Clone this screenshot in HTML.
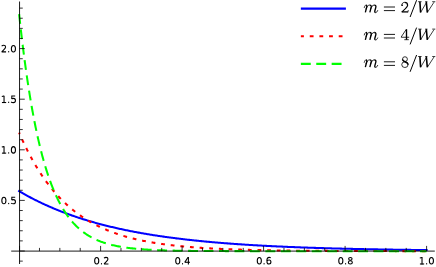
<!DOCTYPE html>
<html><head><meta charset="utf-8"><style>
html,body{margin:0;padding:0;background:#fff;}
svg{display:block;}
text{font-family:"Liberation Sans",sans-serif;}
</style></head><body>
<svg width="436" height="267" viewBox="0 0 436 267">
<rect width="436" height="267" fill="#fff"/>
<path d="M19.10,191.16 L19.96,191.67 L20.83,192.17 L21.70,192.67 L22.57,193.17 L23.44,193.66 L24.32,194.15 L25.19,194.64 L26.07,195.13 L26.95,195.61 L27.83,196.09 L28.71,196.56 L29.60,197.03 L30.48,197.50 L31.37,197.97 L32.26,198.43 L33.15,198.89 L34.04,199.35 L34.94,199.80 L35.83,200.25 L36.73,200.69 L37.63,201.14 L38.53,201.58 L39.43,202.02 L40.33,202.45 L41.24,202.88 L42.15,203.31 L43.05,203.73 L43.96,204.15 L44.87,204.57 L45.79,204.99 L46.70,205.40 L47.62,205.81 L48.53,206.22 L49.45,206.62 L50.37,207.02 L51.29,207.42 L52.21,207.81 L53.13,208.20 L54.06,208.59 L54.98,208.97 L55.91,209.36 L56.84,209.74 L57.77,210.11 L58.70,210.49 L59.63,210.86 L60.56,211.22 L61.50,211.59 L62.43,211.95 L63.37,212.31 L64.30,212.66 L65.24,213.02 L66.18,213.37 L67.12,213.71 L68.06,214.06 L69.00,214.40 L69.95,214.74 L70.89,215.08 L71.84,215.41 L72.78,215.74 L73.73,216.07 L74.68,216.39 L75.63,216.71 L76.58,217.03 L77.53,217.35 L78.48,217.67 L79.43,217.98 L80.39,218.29 L81.34,218.59 L82.30,218.90 L83.25,219.20 L84.21,219.50 L85.17,219.79 L86.13,220.09 L87.08,220.38 L88.04,220.67 L89.01,220.95 L89.97,221.24 L90.93,221.52 L91.89,221.80 L92.85,222.08 L93.82,222.35 L94.78,222.62 L95.75,222.89 L96.72,223.16 L97.68,223.42 L98.65,223.68 L99.62,223.94 L100.59,224.20 L101.56,224.46 L102.53,224.71 L103.50,224.96 L104.47,225.21 L105.44,225.46 L106.41,225.70 L107.38,225.94 L108.36,226.18 L109.33,226.42 L110.31,226.66 L111.28,226.89 L112.26,227.12 L113.23,227.35 L114.21,227.58 L115.18,227.80 L116.16,228.02 L117.14,228.25 L118.12,228.46 L119.10,228.68 L120.08,228.90 L121.05,229.11 L122.03,229.32 L123.01,229.53 L124.00,229.74 L124.98,229.94 L125.96,230.15 L126.94,230.35 L127.92,230.55 L128.90,230.75 L129.89,230.94 L130.87,231.14 L131.85,231.33 L132.84,231.52 L133.82,231.71 L134.81,231.90 L135.79,232.08 L136.78,232.27 L137.76,232.45 L138.75,232.63 L139.74,232.81 L140.72,232.98 L141.71,233.16 L142.70,233.33 L143.69,233.50 L144.67,233.67 L145.66,233.84 L146.65,234.01 L147.64,234.18 L148.63,234.34 L149.62,234.50 L150.61,234.66 L151.59,234.82 L152.58,234.98 L153.57,235.14 L154.57,235.29 L155.56,235.45 L156.55,235.60 L157.54,235.75 L158.53,235.90 L159.52,236.05 L160.51,236.19 L161.50,236.34 L162.50,236.48 L163.49,236.63 L164.48,236.77 L165.47,236.91 L166.47,237.04 L167.46,237.18 L168.45,237.32 L169.44,237.45 L170.44,237.58 L171.43,237.72 L172.43,237.85 L173.42,237.98 L174.41,238.10 L175.41,238.23 L176.40,238.36 L177.40,238.48 L178.39,238.60 L179.39,238.73 L180.38,238.85 L181.38,238.97 L182.37,239.09 L183.37,239.20 L184.36,239.32 L185.36,239.44 L186.36,239.55 L187.35,239.66 L188.35,239.77 L189.34,239.89 L190.34,240.00 L191.34,240.10 L192.33,240.21 L193.33,240.32 L194.33,240.42 L195.32,240.53 L196.32,240.63 L197.32,240.74 L198.31,240.84 L199.31,240.94 L200.31,241.04 L201.31,241.14 L202.30,241.23 L203.30,241.33 L204.30,241.43 L205.30,241.52 L206.30,241.62 L207.29,241.71 L208.29,241.80 L209.29,241.89 L210.29,241.98 L211.29,242.07 L212.29,242.16 L213.28,242.25 L214.28,242.34 L215.28,242.42 L216.28,242.51 L217.28,242.59 L218.28,242.68 L219.28,242.76 L220.28,242.84 L221.27,242.92 L222.27,243.00 L223.27,243.08 L224.27,243.16 L225.27,243.24 L226.27,243.32 L227.27,243.39 L228.27,243.47 L229.27,243.54 L230.27,243.62 L231.27,243.69 L232.27,243.77 L233.27,243.84 L234.27,243.91 L235.27,243.98 L236.27,244.05 L237.27,244.12 L238.27,244.19 L239.27,244.26 L240.27,244.32 L241.27,244.39 L242.27,244.46 L243.27,244.52 L244.27,244.59 L245.27,244.65 L246.27,244.72 L247.27,244.78 L248.27,244.84 L249.27,244.90 L250.27,244.96 L251.27,245.03 L252.27,245.09 L253.27,245.15 L254.27,245.20 L255.27,245.26 L256.28,245.32 L257.28,245.38 L258.28,245.43 L259.28,245.49 L260.28,245.55 L261.28,245.60 L262.28,245.65 L263.28,245.71 L264.28,245.76 L265.28,245.82 L266.28,245.87 L267.29,245.92 L268.29,245.97 L269.29,246.02 L270.29,246.07 L271.29,246.12 L272.29,246.17 L273.29,246.22 L274.29,246.27 L275.29,246.32 L276.30,246.36 L277.30,246.41 L278.30,246.46 L279.30,246.50 L280.30,246.55 L281.30,246.59 L282.30,246.64 L283.31,246.68 L284.31,246.73 L285.31,246.77 L286.31,246.81 L287.31,246.86 L288.31,246.90 L289.31,246.94 L290.32,246.98 L291.32,247.02 L292.32,247.06 L293.32,247.10 L294.32,247.14 L295.32,247.18 L296.33,247.22 L297.33,247.26 L298.33,247.30 L299.33,247.34 L300.33,247.37 L301.33,247.41 L302.34,247.45 L303.34,247.48 L304.34,247.52 L305.34,247.56 L306.34,247.59 L307.34,247.63 L308.35,247.66 L309.35,247.70 L310.35,247.73 L311.35,247.76 L312.35,247.80 L313.35,247.83 L314.36,247.86 L315.36,247.89 L316.36,247.93 L317.36,247.96 L318.36,247.99 L319.37,248.02 L320.37,248.05 L321.37,248.08 L322.37,248.11 L323.37,248.14 L324.38,248.17 L325.38,248.20 L326.38,248.23 L327.38,248.26 L328.38,248.29 L329.39,248.32 L330.39,248.34 L331.39,248.37 L332.39,248.40 L333.39,248.43 L334.40,248.45 L335.40,248.48 L336.40,248.51 L337.40,248.53 L338.40,248.56 L339.41,248.58 L340.41,248.61 L341.41,248.63 L342.41,248.66 L343.41,248.68 L344.42,248.71 L345.42,248.73 L346.42,248.76 L347.42,248.78 L348.42,248.80 L349.43,248.83 L350.43,248.85 L351.43,248.87 L352.43,248.89 L353.44,248.92 L354.44,248.94 L355.44,248.96 L356.44,248.98 L357.44,249.00 L358.45,249.02 L359.45,249.05 L360.45,249.07 L361.45,249.09 L362.45,249.11 L363.46,249.13 L364.46,249.15 L365.46,249.17 L366.46,249.19 L367.47,249.21 L368.47,249.23 L369.47,249.24 L370.47,249.26 L371.47,249.28 L372.48,249.30 L373.48,249.32 L374.48,249.34 L375.48,249.35 L376.49,249.37 L377.49,249.39 L378.49,249.41 L379.49,249.42 L380.49,249.44 L381.50,249.46 L382.50,249.48 L383.50,249.49 L384.50,249.51 L385.51,249.52 L386.51,249.54 L387.51,249.56 L388.51,249.57 L389.51,249.59 L390.52,249.60 L391.52,249.62 L392.52,249.63 L393.52,249.65 L394.53,249.66 L395.53,249.68 L396.53,249.69 L397.53,249.71 L398.54,249.72 L399.54,249.74 L400.54,249.75 L401.54,249.76 L402.54,249.78 L403.55,249.79 L404.55,249.81 L405.55,249.82 L406.55,249.83 L407.56,249.84 L408.56,249.86 L409.56,249.87 L410.56,249.88 L411.57,249.90 L412.57,249.91 L413.57,249.92 L414.57,249.93 L415.57,249.95 L416.58,249.96 L417.58,249.97 L418.58,249.98 L419.58,249.99 L420.59,250.00 L421.59,250.02 L422.59,250.03 L423.59,250.04 L424.60,250.05 L425.60,250.06 L426.60,250.07" stroke="#0000ff" stroke-width="2.05" fill="none" stroke-linecap="square"/>
<path d="M19.10,132.60 L19.50,133.52 L19.90,134.44 L20.30,135.36 L20.70,136.28 L21.11,137.19 L21.52,138.10 L21.93,139.02 L22.35,139.93 L22.77,140.84 L23.19,141.75 L23.61,142.65 L24.04,143.56 L24.47,144.46 L24.90,145.37 L25.34,146.27 L25.78,147.17 L26.22,148.07 L26.66,148.96 L27.11,149.86 L27.56,150.75 L28.02,151.64 L28.47,152.53 L28.94,153.42 L29.40,154.31 L29.87,155.20 L30.34,156.08 L30.81,156.96 L31.29,157.84 L31.77,158.72 L32.26,159.60 L32.75,160.47 L33.24,161.34 L33.73,162.21 L34.23,163.08 L34.74,163.95 L35.24,164.81 L35.75,165.67 L36.27,166.53 L36.79,167.39 L37.31,168.24 L37.84,169.09 L38.37,169.94 L38.90,170.79 L39.44,171.63 L39.98,172.48 L40.53,173.32 L41.08,174.15 L41.63,174.99 L42.19,175.82 L42.75,176.64 L43.32,177.47 L43.89,178.29 L44.47,179.11 L45.05,179.93 L45.63,180.74 L46.22,181.55 L46.81,182.36 L47.41,183.16 L48.01,183.96 L48.62,184.76 L49.23,185.55 L49.85,186.34 L50.47,187.12 L51.10,187.91 L51.73,188.68 L52.36,189.46 L53.00,190.23 L53.65,190.99 L54.30,191.76 L54.95,192.51 L55.61,193.27 L56.27,194.02 L56.94,194.76 L57.61,195.50 L58.29,196.24 L58.98,196.97 L59.66,197.70 L60.36,198.42 L61.06,199.14 L61.76,199.85 L62.47,200.56 L63.18,201.27 L63.90,201.96 L64.62,202.66 L65.35,203.35 L66.08,204.03 L66.82,204.71 L67.56,205.38 L68.31,206.04 L69.06,206.71 L69.82,207.36 L70.58,208.01 L71.34,208.66 L72.11,209.29 L72.89,209.93 L73.67,210.55 L74.46,211.18 L75.25,211.79 L76.04,212.40 L76.84,213.00 L77.64,213.60 L78.45,214.19 L79.26,214.78 L80.08,215.36 L80.90,215.93 L81.73,216.50 L82.56,217.06 L83.39,217.61 L84.23,218.16 L85.07,218.70 L85.92,219.24 L86.77,219.76 L87.62,220.29 L88.48,220.80 L89.34,221.31 L90.21,221.82 L91.08,222.31 L91.95,222.80 L92.83,223.29 L93.71,223.76 L94.59,224.24 L95.48,224.70 L96.37,225.16 L97.26,225.61 L98.16,226.06 L99.06,226.50 L99.96,226.93 L100.87,227.36 L101.78,227.78 L102.69,228.19 L103.60,228.60 L104.52,229.00 L105.44,229.40 L106.36,229.79 L107.28,230.18 L108.21,230.55 L109.14,230.93 L110.07,231.29 L111.01,231.66 L111.94,232.01 L112.88,232.36 L113.82,232.70 L114.76,233.04 L115.71,233.38 L116.65,233.70 L117.60,234.03 L118.55,234.34 L119.50,234.65 L120.46,234.96 L121.41,235.26 L122.37,235.56 L123.33,235.85 L124.29,236.13 L125.25,236.42 L126.21,236.69 L127.17,236.96 L128.14,237.23 L129.11,237.49 L130.07,237.75 L131.04,238.00 L132.01,238.25 L132.98,238.49 L133.96,238.73 L134.93,238.97 L135.90,239.20 L136.88,239.43 L137.86,239.65 L138.83,239.87 L139.81,240.08 L140.79,240.29 L141.77,240.50 L142.75,240.71 L143.73,240.91 L144.71,241.10 L145.70,241.29 L146.68,241.48 L147.66,241.67 L148.65,241.85 L149.63,242.03 L150.62,242.20 L151.61,242.38 L152.59,242.54 L153.58,242.71 L154.57,242.87 L155.56,243.03 L156.55,243.19 L157.54,243.34 L158.53,243.49 L159.52,243.64 L160.51,243.79 L161.50,243.93 L162.49,244.07 L163.48,244.20 L164.47,244.34 L165.47,244.47 L166.46,244.60 L167.45,244.73 L168.45,244.85 L169.44,244.97 L170.43,245.09 L171.43,245.21 L172.42,245.33 L173.42,245.44 L174.41,245.55 L175.41,245.66 L176.40,245.77 L177.40,245.87 L178.40,245.97 L179.39,246.07 L180.39,246.17 L181.39,246.27 L182.38,246.36 L183.38,246.46 L184.38,246.55 L185.37,246.64 L186.37,246.73 L187.37,246.81 L188.37,246.90 L189.36,246.98 L190.36,247.06 L191.36,247.14 L192.36,247.22 L193.36,247.30 L194.36,247.37 L195.36,247.44 L196.35,247.52 L197.35,247.59 L198.35,247.66 L199.35,247.73 L200.35,247.79 L201.35,247.86 L202.35,247.92 L203.35,247.99 L204.35,248.05 L205.35,248.11 L206.35,248.17 L207.35,248.23 L208.35,248.28 L209.35,248.34 L210.35,248.39 L211.34,248.45 L212.34,248.50 L213.34,248.55 L214.34,248.60 L215.35,248.65 L216.35,248.70 L217.35,248.75 L218.35,248.80 L219.35,248.84 L220.35,248.89 L221.35,248.93 L222.35,248.98 L223.35,249.02 L224.35,249.06 L225.35,249.10 L226.35,249.14 L227.35,249.18 L228.35,249.22 L229.35,249.26 L230.35,249.30 L231.35,249.33 L232.35,249.37 L233.35,249.40 L234.35,249.44 L235.36,249.47 L236.36,249.50 L237.36,249.54 L238.36,249.57 L239.36,249.60 L240.36,249.63 L241.36,249.66 L242.36,249.69 L243.36,249.72 L244.36,249.75 L245.36,249.77 L246.37,249.80 L247.37,249.83 L248.37,249.85 L249.37,249.88 L250.37,249.90 L251.37,249.93 L252.37,249.95 L253.37,249.98 L254.37,250.00 L255.37,250.02 L256.38,250.05 L257.38,250.07 L258.38,250.09 L259.38,250.11 L260.38,250.13 L261.38,250.15 L262.38,250.17 L263.38,250.19 L264.38,250.21 L265.39,250.23 L266.39,250.25 L267.39,250.26 L268.39,250.28 L269.39,250.30 L270.39,250.32 L271.39,250.33 L272.39,250.35 L273.40,250.36 L274.40,250.38 L275.40,250.40 L276.40,250.41 L277.40,250.43 L278.40,250.44 L279.40,250.45 L280.40,250.47 L281.41,250.48 L282.41,250.50 L283.41,250.51 L284.41,250.52 L285.41,250.53 L286.41,250.55 L287.41,250.56 L288.41,250.57 L289.42,250.58 L290.42,250.59 L291.42,250.60 L292.42,250.62 L293.42,250.63 L294.42,250.64 L295.42,250.65 L296.43,250.66 L297.43,250.67 L298.43,250.68 L299.43,250.69 L300.43,250.70 L301.43,250.71 L302.43,250.71 L303.43,250.72 L304.44,250.73 L305.44,250.74 L306.44,250.75 L307.44,250.76 L308.44,250.77 L309.44,250.77 L310.44,250.78 L311.44,250.79 L312.45,250.80 L313.45,250.80 L314.45,250.81 L315.45,250.82 L316.45,250.82 L317.45,250.83 L318.45,250.84 L319.46,250.84 L320.46,250.85 L321.46,250.86 L322.46,250.86 L323.46,250.87 L324.46,250.87 L325.46,250.88 L326.46,250.89 L327.47,250.89 L328.47,250.90 L329.47,250.90 L330.47,250.91 L331.47,250.91 L332.47,250.92 L333.47,250.92 L334.48,250.93 L335.48,250.93 L336.48,250.94 L337.48,250.94 L338.48,250.95 L339.48,250.95 L340.48,250.95 L341.49,250.96 L342.49,250.96 L343.49,250.97 L344.49,250.97 L345.49,250.97 L346.49,250.98 L347.49,250.98 L348.49,250.99 L349.50,250.99 L350.50,250.99 L351.50,251.00 L352.50,251.00 L353.50,251.00 L354.50,251.01 L355.50,251.01 L356.51,251.01 L357.51,251.02 L358.51,251.02 L359.51,251.02 L360.51,251.02 L361.51,251.03 L362.51,251.03 L363.51,251.03 L364.52,251.04 L365.52,251.04 L366.52,251.04 L367.52,251.04 L368.52,251.05 L369.52,251.05 L370.52,251.05 L371.53,251.05 L372.53,251.06 L373.53,251.06 L374.53,251.06 L375.53,251.06 L376.53,251.06 L377.53,251.07 L378.53,251.07 L379.54,251.07 L380.54,251.07 L381.54,251.07 L382.54,251.08 L383.54,251.08 L384.54,251.08 L385.54,251.08 L386.55,251.08 L387.55,251.08 L388.55,251.09 L389.55,251.09 L390.55,251.09 L391.55,251.09 L392.55,251.09 L393.56,251.09 L394.56,251.10 L395.56,251.10 L396.56,251.10 L397.56,251.10 L398.56,251.10 L399.56,251.10 L400.56,251.10 L401.57,251.10 L402.57,251.11 L403.57,251.11 L404.57,251.11 L405.57,251.11 L406.57,251.11 L407.57,251.11 L408.58,251.11 L409.58,251.11 L410.58,251.12 L411.58,251.12 L412.58,251.12 L413.58,251.12 L414.58,251.12 L415.59,251.12 L416.59,251.12 L417.59,251.12 L418.59,251.12 L419.59,251.12 L420.59,251.13 L421.59,251.13 L422.59,251.13 L423.60,251.13 L424.60,251.13 L425.60,251.13 L426.60,251.13" stroke="#ff0000" stroke-width="2.05" fill="none" stroke-dasharray="3.8 5.86" stroke-dashoffset="2.29"/>
<path d="M19.10,14.04 L19.21,15.03 L19.31,16.03 L19.42,17.02 L19.53,18.02 L19.64,19.01 L19.75,20.01 L19.86,21.00 L19.97,22.00 L20.08,22.99 L20.19,23.99 L20.30,24.98 L20.42,25.98 L20.53,26.97 L20.64,27.97 L20.76,28.96 L20.87,29.96 L20.98,30.95 L21.10,31.95 L21.22,32.94 L21.33,33.93 L21.45,34.93 L21.57,35.92 L21.68,36.92 L21.80,37.91 L21.92,38.91 L22.04,39.90 L22.16,40.89 L22.28,41.89 L22.40,42.88 L22.52,43.87 L22.65,44.87 L22.77,45.86 L22.89,46.85 L23.02,47.85 L23.14,48.84 L23.27,49.83 L23.39,50.83 L23.52,51.82 L23.65,52.81 L23.78,53.81 L23.90,54.80 L24.03,55.79 L24.16,56.78 L24.29,57.78 L24.42,58.77 L24.56,59.76 L24.69,60.75 L24.82,61.75 L24.95,62.74 L25.09,63.73 L25.22,64.72 L25.36,65.71 L25.50,66.71 L25.63,67.70 L25.77,68.69 L25.91,69.68 L26.05,70.67 L26.19,71.66 L26.33,72.65 L26.47,73.65 L26.62,74.64 L26.76,75.63 L26.90,76.62 L27.05,77.61 L27.19,78.60 L27.34,79.59 L27.49,80.58 L27.64,81.57 L27.79,82.56 L27.94,83.55 L28.09,84.54 L28.24,85.53 L28.39,86.52 L28.54,87.51 L28.70,88.50 L28.85,89.48 L29.01,90.47 L29.17,91.46 L29.33,92.45 L29.48,93.44 L29.64,94.43 L29.81,95.42 L29.97,96.40 L30.13,97.39 L30.29,98.38 L30.46,99.37 L30.63,100.35 L30.79,101.34 L30.96,102.33 L31.13,103.31 L31.30,104.30 L31.47,105.29 L31.65,106.27 L31.82,107.26 L31.99,108.24 L32.17,109.23 L32.35,110.21 L32.53,111.20 L32.71,112.18 L32.89,113.17 L33.07,114.15 L33.25,115.14 L33.44,116.12 L33.62,117.11 L33.81,118.09 L34.00,119.07 L34.19,120.05 L34.38,121.04 L34.58,122.02 L34.77,123.00 L34.97,123.98 L35.16,124.96 L35.36,125.95 L35.56,126.93 L35.76,127.91 L35.97,128.89 L36.17,129.87 L36.38,130.85 L36.59,131.83 L36.80,132.80 L37.01,133.78 L37.22,134.76 L37.44,135.74 L37.65,136.72 L37.87,137.69 L38.09,138.67 L38.31,139.65 L38.54,140.62 L38.76,141.60 L38.99,142.57 L39.22,143.55 L39.45,144.52 L39.68,145.49 L39.92,146.47 L40.16,147.44 L40.40,148.41 L40.64,149.38 L40.88,150.35 L41.13,151.32 L41.38,152.29 L41.63,153.26 L41.88,154.23 L42.14,155.20 L42.40,156.17 L42.66,157.13 L42.92,158.10 L43.19,159.06 L43.45,160.03 L43.72,160.99 L44.00,161.96 L44.27,162.92 L44.55,163.88 L44.83,164.84 L45.12,165.80 L45.41,166.76 L45.70,167.72 L45.99,168.67 L46.29,169.63 L46.59,170.58 L46.89,171.54 L47.20,172.49 L47.51,173.44 L47.82,174.39 L48.14,175.34 L48.46,176.29 L48.78,177.24 L49.11,178.18 L49.44,179.13 L49.78,180.07 L50.12,181.01 L50.46,181.95 L50.81,182.89 L51.16,183.83 L51.52,184.77 L51.88,185.70 L52.24,186.63 L52.61,187.56 L52.99,188.49 L53.37,189.42 L53.75,190.34 L54.14,191.26 L54.54,192.18 L54.93,193.10 L55.34,194.02 L55.75,194.93 L56.17,195.84 L56.59,196.75 L57.01,197.65 L57.45,198.56 L57.89,199.46 L58.33,200.35 L58.78,201.25 L59.24,202.14 L59.71,203.02 L60.18,203.91 L60.66,204.79 L61.14,205.66 L61.63,206.53 L62.13,207.40 L62.64,208.26 L63.16,209.12 L63.68,209.98 L64.21,210.83 L64.75,211.67 L65.29,212.51 L65.85,213.34 L66.41,214.17 L66.98,214.99 L67.56,215.81 L68.15,216.61 L68.75,217.42 L69.36,218.21 L69.98,219.00 L70.60,219.78 L71.24,220.56 L71.88,221.32 L72.54,222.08 L73.20,222.83 L73.88,223.57 L74.56,224.30 L75.25,225.02 L75.96,225.73 L76.67,226.44 L77.39,227.13 L78.13,227.81 L78.87,228.48 L79.62,229.14 L80.38,229.79 L81.15,230.43 L81.94,231.06 L82.73,231.67 L83.53,232.27 L84.33,232.86 L85.15,233.44 L85.98,234.01 L86.81,234.56 L87.65,235.10 L88.50,235.63 L89.36,236.14 L90.23,236.65 L91.10,237.14 L91.98,237.61 L92.87,238.08 L93.76,238.53 L94.66,238.97 L95.57,239.39 L96.48,239.81 L97.40,240.21 L98.32,240.60 L99.25,240.98 L100.18,241.34 L101.11,241.70 L102.05,242.04 L103.00,242.37 L103.95,242.69 L104.90,243.00 L105.85,243.31 L106.81,243.60 L107.77,243.88 L108.74,244.15 L109.70,244.41 L110.67,244.66 L111.64,244.90 L112.61,245.14 L113.59,245.37 L114.57,245.58 L115.55,245.79 L116.53,246.00 L117.51,246.19 L118.49,246.38 L119.48,246.56 L120.46,246.74 L121.45,246.91 L122.44,247.07 L123.42,247.23 L124.41,247.38 L125.40,247.52 L126.40,247.66 L127.39,247.79 L128.38,247.92 L129.37,248.05 L130.37,248.17 L131.36,248.28 L132.36,248.39 L133.35,248.50 L134.35,248.60 L135.35,248.70 L136.34,248.79 L137.34,248.89 L138.34,248.97 L139.33,249.06 L140.33,249.14 L141.33,249.22 L142.33,249.29 L143.33,249.36 L144.32,249.43 L145.32,249.50 L146.32,249.56 L147.32,249.63 L148.32,249.69 L149.32,249.74 L150.32,249.80 L151.32,249.85 L152.32,249.90 L153.32,249.95 L154.32,250.00 L155.32,250.04 L156.32,250.09 L157.32,250.13 L158.32,250.17 L159.32,250.21 L160.32,250.24 L161.32,250.28 L162.32,250.31 L163.32,250.35 L164.32,250.38 L165.32,250.41 L166.32,250.44 L167.32,250.47 L168.33,250.49 L169.33,250.52 L170.33,250.54 L171.33,250.57 L172.33,250.59 L173.33,250.61 L174.33,250.64 L175.33,250.66 L176.33,250.68 L177.33,250.69 L178.33,250.71 L179.33,250.73 L180.34,250.75 L181.34,250.76 L182.34,250.78 L183.34,250.79 L184.34,250.81 L185.34,250.82 L186.34,250.84 L187.34,250.85 L188.34,250.86 L189.34,250.87 L190.35,250.88 L191.35,250.90 L192.35,250.91 L193.35,250.92 L194.35,250.93 L195.35,250.94 L196.35,250.94 L197.35,250.95 L198.35,250.96 L199.35,250.97 L200.36,250.98 L201.36,250.99 L202.36,250.99 L203.36,251.00 L204.36,251.01 L205.36,251.01 L206.36,251.02 L207.36,251.02 L208.36,251.03 L209.37,251.03 L210.37,251.04 L211.37,251.05 L212.37,251.05 L213.37,251.05 L214.37,251.06 L215.37,251.06 L216.37,251.07 L217.37,251.07 L218.38,251.08 L219.38,251.08 L220.38,251.08 L221.38,251.09 L222.38,251.09 L223.38,251.09 L224.38,251.10 L225.38,251.10 L226.38,251.10 L227.38,251.10 L228.39,251.11 L229.39,251.11 L230.39,251.11 L231.39,251.11 L232.39,251.12 L233.39,251.12 L234.39,251.12 L235.39,251.12 L236.39,251.12 L237.40,251.13 L238.40,251.13 L239.40,251.13 L240.40,251.13 L241.40,251.13 L242.40,251.13 L243.40,251.13 L244.40,251.14 L245.40,251.14 L246.41,251.14 L247.41,251.14 L248.41,251.14 L249.41,251.14 L250.41,251.14 L251.41,251.14 L252.41,251.15 L253.41,251.15 L254.41,251.15 L255.42,251.15 L256.42,251.15 L257.42,251.15 L258.42,251.15 L259.42,251.15 L260.42,251.15 L261.42,251.15 L262.42,251.15 L263.42,251.15 L264.42,251.15 L265.43,251.16 L266.43,251.16 L267.43,251.16 L268.43,251.16 L269.43,251.16 L270.43,251.16 L271.43,251.16 L272.43,251.16 L273.43,251.16 L274.44,251.16 L275.44,251.16 L276.44,251.16 L277.44,251.16 L278.44,251.16 L279.44,251.16 L280.44,251.16 L281.44,251.16 L282.44,251.16 L283.45,251.16 L284.45,251.16 L285.45,251.16 L286.45,251.16 L287.45,251.16 L288.45,251.16 L289.45,251.16 L290.45,251.16 L291.45,251.16 L292.46,251.16 L293.46,251.17 L294.46,251.17 L295.46,251.17 L296.46,251.17 L297.46,251.17 L298.46,251.17 L299.46,251.17 L300.46,251.17 L301.46,251.17 L302.47,251.17 L303.47,251.17 L304.47,251.17 L305.47,251.17 L306.47,251.17 L307.47,251.17 L308.47,251.17 L309.47,251.17 L310.47,251.17 L311.48,251.17 L312.48,251.17 L313.48,251.17 L314.48,251.17 L315.48,251.17 L316.48,251.17 L317.48,251.17 L318.48,251.17 L319.48,251.17 L320.49,251.17 L321.49,251.17 L322.49,251.17 L323.49,251.17 L324.49,251.17 L325.49,251.17 L326.49,251.17 L327.49,251.17 L328.49,251.17 L329.50,251.17 L330.50,251.17 L331.50,251.17 L332.50,251.17 L333.50,251.17 L334.50,251.17 L335.50,251.17 L336.50,251.17 L337.50,251.17 L338.50,251.17 L339.51,251.17 L340.51,251.17 L341.51,251.17 L342.51,251.17 L343.51,251.17 L344.51,251.17 L345.51,251.17 L346.51,251.17 L347.51,251.17 L348.52,251.17 L349.52,251.17 L350.52,251.17 L351.52,251.17 L352.52,251.17 L353.52,251.17 L354.52,251.17 L355.52,251.17 L356.52,251.17 L357.53,251.17 L358.53,251.17 L359.53,251.17 L360.53,251.17 L361.53,251.17 L362.53,251.17 L363.53,251.17 L364.53,251.17 L365.53,251.17 L366.54,251.17 L367.54,251.17 L368.54,251.17 L369.54,251.17 L370.54,251.17 L371.54,251.17 L372.54,251.17 L373.54,251.17 L374.54,251.17 L375.54,251.17 L376.55,251.17 L377.55,251.17 L378.55,251.17 L379.55,251.17 L380.55,251.17 L381.55,251.17 L382.55,251.17 L383.55,251.17 L384.55,251.17 L385.56,251.17 L386.56,251.17 L387.56,251.17 L388.56,251.17 L389.56,251.17 L390.56,251.17 L391.56,251.17 L392.56,251.17 L393.56,251.17 L394.57,251.17 L395.57,251.17 L396.57,251.17 L397.57,251.17 L398.57,251.17 L399.57,251.17 L400.57,251.17 L401.57,251.17 L402.57,251.17 L403.58,251.17 L404.58,251.17 L405.58,251.17 L406.58,251.17 L407.58,251.17 L408.58,251.17 L409.58,251.17 L410.58,251.17 L411.58,251.17 L412.58,251.17 L413.59,251.17 L414.59,251.17 L415.59,251.17 L416.59,251.17 L417.59,251.17 L418.59,251.17 L419.59,251.17 L420.59,251.17 L421.59,251.17 L422.60,251.17 L423.60,251.17 L424.60,251.17 L425.60,251.17 L426.60,251.17" stroke="#00ff00" stroke-width="2.05" fill="none" stroke-dasharray="9.9 5.56"/>
<path d="M11.2,251.1 H434.8 M19.55,1.5 V264" stroke="#000" stroke-width="0.9" fill="none"/>
<path d="M19.55,251.1 v-5.2 M39.48,251.1 v-3.2 M59.85,251.1 v-3.2 M80.23,251.1 v-3.2 M100.60,251.1 v-5.2 M120.97,251.1 v-3.2 M141.35,251.1 v-3.2 M161.72,251.1 v-3.2 M182.10,251.1 v-5.2 M202.47,251.1 v-3.2 M222.85,251.1 v-3.2 M243.23,251.1 v-3.2 M263.60,251.1 v-5.2 M283.98,251.1 v-3.2 M304.35,251.1 v-3.2 M324.73,251.1 v-3.2 M345.10,251.1 v-5.2 M365.48,251.1 v-3.2 M385.85,251.1 v-3.2 M406.23,251.1 v-3.2 M426.60,251.1 v-5.2 M19.55,261.12 h3.2 M19.55,251.00 h5.2 M19.55,240.88 h3.2 M19.55,230.76 h3.2 M19.55,220.64 h3.2 M19.55,210.52 h3.2 M19.55,200.40 h5.2 M19.55,190.28 h3.2 M19.55,180.16 h3.2 M19.55,170.04 h3.2 M19.55,159.92 h3.2 M19.55,149.80 h5.2 M19.55,139.68 h3.2 M19.55,129.56 h3.2 M19.55,119.44 h3.2 M19.55,109.32 h3.2 M19.55,99.20 h5.2 M19.55,89.08 h3.2 M19.55,78.96 h3.2 M19.55,68.84 h3.2 M19.55,58.72 h3.2 M19.55,48.60 h5.2 M19.55,38.48 h3.2 M19.55,28.36 h3.2 M19.55,18.24 h3.2 M19.55,8.12 h3.2" stroke="#000" stroke-width="0.8" fill="none"/>
<path d="M300.85,8.65 H345.9" stroke="#0000ff" stroke-width="2.05"/>
<path d="M300.85,36.2 H343" stroke="#ff0000" stroke-width="2.05" stroke-dasharray="3.8 5.86" stroke-dashoffset="0.76"/>
<path d="M300.85,63.85 H342" stroke="#00ff00" stroke-width="2.05" stroke-dasharray="9.9 5.5"/>
<g fill="none" stroke="#000" stroke-linecap="butt" stroke-linejoin="miter" stroke-miterlimit="1.5"><g transform="translate(93.53,264.40) scale(0.01,-0.01)" stroke-width="108"><ellipse cx="318" cy="365" rx="205" ry="325"/><rect x="743" y="0" width="104" height="124" fill="#000" stroke="none"/><path transform="translate(954,0)" d="M95,625 C160,685 230,705 300,705 C410,705 488,640 488,535 C488,440 420,370 300,250 L105,45 H536"/></g><g transform="translate(174.58,264.40) scale(0.01,-0.01)" stroke-width="108"><ellipse cx="318" cy="365" rx="205" ry="325"/><rect x="743" y="0" width="104" height="124" fill="#000" stroke="none"/><path transform="translate(954,0)" d="M427,0 V729"/><path transform="translate(954,0)" d="M395,715 L78,225"/><path transform="translate(954,0)" d="M52,213 H580"/></g><g transform="translate(256.13,264.40) scale(0.01,-0.01)" stroke-width="108"><ellipse cx="318" cy="365" rx="205" ry="325"/><rect x="743" y="0" width="104" height="124" fill="#000" stroke="none"/><path transform="translate(954,0)" d="M505,670 C460,695 410,705 360,705 C200,705 120,560 120,350 C120,150 190,36 330,36 C450,36 525,120 525,235 C525,355 450,435 335,435 C230,435 150,370 122,280"/></g><g transform="translate(337.63,264.40) scale(0.01,-0.01)" stroke-width="108"><ellipse cx="318" cy="365" rx="205" ry="325"/><rect x="743" y="0" width="104" height="124" fill="#000" stroke="none"/><ellipse cx="1272" cy="558" rx="172" ry="140"/><ellipse cx="1272" cy="198" rx="200" ry="160"/></g><g transform="translate(418.68,264.40) scale(0.01,-0.01)" stroke-width="108"><path transform="translate(0,0)" d="M334,0 V729"/><path transform="translate(0,0)" d="M112,648 L334,693"/><path transform="translate(0,0)" d="M124,42 H546"/><rect x="743" y="0" width="104" height="124" fill="#000" stroke="none"/><ellipse cx="1272" cy="365" rx="205" ry="325"/></g><g transform="translate(0.70,204.15) scale(0.01,-0.01)" stroke-width="108"><ellipse cx="318" cy="365" rx="205" ry="325"/><rect x="743" y="0" width="104" height="124" fill="#000" stroke="none"/><path transform="translate(954,0)" d="M495,687 H157 V405 C215,440 275,455 330,455 C450,455 520,360 520,245 C520,120 440,36 310,36 C215,36 140,60 82,100"/></g><g transform="translate(0.70,153.55) scale(0.01,-0.01)" stroke-width="108"><path transform="translate(0,0)" d="M334,0 V729"/><path transform="translate(0,0)" d="M112,648 L334,693"/><path transform="translate(0,0)" d="M124,42 H546"/><rect x="743" y="0" width="104" height="124" fill="#000" stroke="none"/><ellipse cx="1272" cy="365" rx="205" ry="325"/></g><g transform="translate(0.70,102.95) scale(0.01,-0.01)" stroke-width="108"><path transform="translate(0,0)" d="M334,0 V729"/><path transform="translate(0,0)" d="M112,648 L334,693"/><path transform="translate(0,0)" d="M124,42 H546"/><rect x="743" y="0" width="104" height="124" fill="#000" stroke="none"/><path transform="translate(954,0)" d="M495,687 H157 V405 C215,440 275,455 330,455 C450,455 520,360 520,245 C520,120 440,36 310,36 C215,36 140,60 82,100"/></g><g transform="translate(0.70,52.35) scale(0.01,-0.01)" stroke-width="108"><path transform="translate(0,0)" d="M95,625 C160,685 230,705 300,705 C410,705 488,640 488,535 C488,440 420,370 300,250 L105,45 H536"/><rect x="743" y="0" width="104" height="124" fill="#000" stroke="none"/><ellipse cx="1272" cy="365" rx="205" ry="325"/></g></g>
<g fill="none" stroke="#000" stroke-linecap="butt" stroke-linejoin="round"><g transform="translate(0,0)"><path d="M364.2,7.9 C364.6,6.2 365.3,5.05 366.0,5.05 M365.9,9.3 C366.6,7.2 367.9,5.05 369.6,5.05 M370.5,9.3 C371.2,7.2 372.5,5.05 374.2,5.05 M375.7,12.5 C376.6,12.5 377.3,11.6 377.8,10.2" stroke-width="0.85"/><path d="M366.0,5.05 C366.9,5.05 367.0,6.0 366.7,7.2 L365.35,12.4 M369.6,5.05 C371.2,5.05 371.5,6.1 371.15,7.4 L369.85,12.4 M374.2,5.05 C375.9,5.05 376.15,6.2 375.75,7.6 L374.85,10.8 C374.55,12 375,12.5 375.7,12.5" stroke-width="1.35"/><path d="M383.9,7.0 H395 M383.9,10.6 H395" stroke-width="0.9"/><path d="M401.9,5.8 C401.5,3.6 403,2.4 404.6,2.4" stroke-width="0.9"/><path d="M404.6,2.4 C406.4,2.4 407.6,3.6 407.6,5.2 C407.6,7.2 405.5,8.6 401.8,11.9" stroke-width="1.2"/><path d="M401.7,11.9 L407.9,11.9" stroke-width="1.3"/><path d="M407.9,12.4 L408.3,10.0" stroke-width="0.7"/><circle cx="402.2" cy="5.3" r="0.8" fill="#000" stroke="none"/><path d="M416.6,0.2 L410.1,17.0" stroke-width="1.0"/><path d="M419.9,1.7 L420.6,12.5 M426.3,1.7 L427.3,12.5" stroke-width="1.6"/><path d="M418.1,1.7 H421.6 M425.2,1.7 H427.4 M432.2,1.7 H435.3 M420.6,12.5 L426.4,2.6 M427.3,12.5 L434.0,2.2" stroke-width="0.75"/></g><g transform="translate(0,27.4)"><path d="M364.2,7.9 C364.6,6.2 365.3,5.05 366.0,5.05 M365.9,9.3 C366.6,7.2 367.9,5.05 369.6,5.05 M370.5,9.3 C371.2,7.2 372.5,5.05 374.2,5.05 M375.7,12.5 C376.6,12.5 377.3,11.6 377.8,10.2" stroke-width="0.85"/><path d="M366.0,5.05 C366.9,5.05 367.0,6.0 366.7,7.2 L365.35,12.4 M369.6,5.05 C371.2,5.05 371.5,6.1 371.15,7.4 L369.85,12.4 M374.2,5.05 C375.9,5.05 376.15,6.2 375.75,7.6 L374.85,10.8 C374.55,12 375,12.5 375.7,12.5" stroke-width="1.35"/><path d="M383.9,7.0 H395 M383.9,10.6 H395" stroke-width="0.9"/><path d="M406.5,1.9 V12.3" stroke-width="1.35"/><path d="M406.3,1.9 L401.1,9.7 M401.1,9.85 H409.2 M404.3,12.3 H408.8" stroke-width="0.8"/><path d="M416.6,0.2 L410.1,17.0" stroke-width="1.0"/><path d="M419.9,1.7 L420.6,12.5 M426.3,1.7 L427.3,12.5" stroke-width="1.6"/><path d="M418.1,1.7 H421.6 M425.2,1.7 H427.4 M432.2,1.7 H435.3 M420.6,12.5 L426.4,2.6 M427.3,12.5 L434.0,2.2" stroke-width="0.75"/></g><g transform="translate(0,54.8)"><path d="M364.2,7.9 C364.6,6.2 365.3,5.05 366.0,5.05 M365.9,9.3 C366.6,7.2 367.9,5.05 369.6,5.05 M370.5,9.3 C371.2,7.2 372.5,5.05 374.2,5.05 M375.7,12.5 C376.6,12.5 377.3,11.6 377.8,10.2" stroke-width="0.85"/><path d="M366.0,5.05 C366.9,5.05 367.0,6.0 366.7,7.2 L365.35,12.4 M369.6,5.05 C371.2,5.05 371.5,6.1 371.15,7.4 L369.85,12.4 M374.2,5.05 C375.9,5.05 376.15,6.2 375.75,7.6 L374.85,10.8 C374.55,12 375,12.5 375.7,12.5" stroke-width="1.35"/><path d="M383.9,7.0 H395 M383.9,10.6 H395" stroke-width="0.9"/><ellipse cx="404.95" cy="4.35" rx="2.45" ry="2.4" stroke-width="0.8"/><ellipse cx="404.9" cy="9.85" rx="3.15" ry="2.85" stroke-width="0.8"/><path d="M402.5,4.5 C402.6,6.0 403.8,6.5 404.95,6.95 C406.5,7.5 408.0,8.3 408.05,9.9" stroke-width="1.35"/><path d="M416.6,0.2 L410.1,17.0" stroke-width="1.0"/><path d="M419.9,1.7 L420.6,12.5 M426.3,1.7 L427.3,12.5" stroke-width="1.6"/><path d="M418.1,1.7 H421.6 M425.2,1.7 H427.4 M432.2,1.7 H435.3 M420.6,12.5 L426.4,2.6 M427.3,12.5 L434.0,2.2" stroke-width="0.75"/></g></g>
</svg>
</body></html>
